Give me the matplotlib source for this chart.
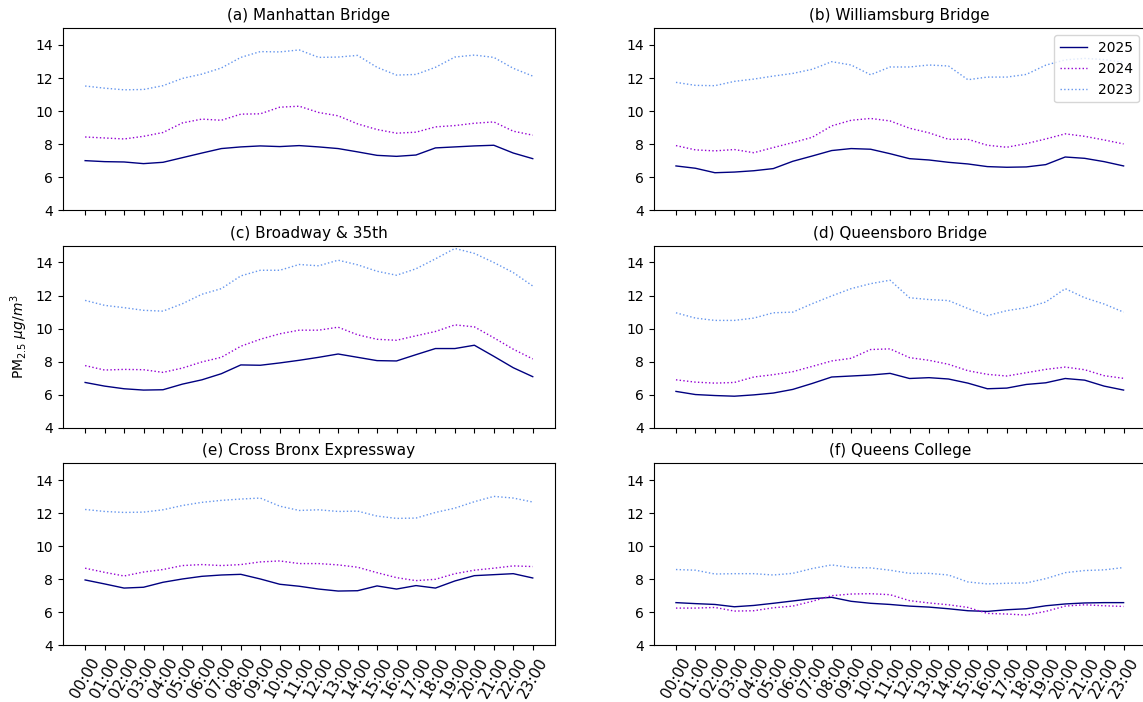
import numpy as np
import matplotlib
matplotlib.use("Agg")
import matplotlib.pyplot as plt

hours = ["%02d:00" % h for h in range(24)]

sites = ["(a) Manhattan Bridge", "(b) Williamsburg Bridge", "(c) Broadway & 35th",
         "(d) Queensboro Bridge", "(e) Cross Bronx Expressway", "(f) Queens College"]

# hourly mean PM2.5 (ug/m3) per site, one list per year
pm_2025 = [
    [7.01, 6.95, 6.93, 6.83, 6.91, 7.19, 7.47, 7.74, 7.84, 7.90, 7.86, 7.92,
     7.84, 7.74, 7.54, 7.33, 7.27, 7.35, 7.78, 7.84, 7.90, 7.94, 7.47, 7.13],
    [6.69, 6.55, 6.28, 6.32, 6.40, 6.53, 6.97, 7.29, 7.62, 7.74, 7.70, 7.43,
     7.13, 7.05, 6.91, 6.81, 6.65, 6.61, 6.63, 6.77, 7.23, 7.15, 6.95, 6.69],
    [6.75, 6.53, 6.37, 6.29, 6.31, 6.65, 6.91, 7.28, 7.81, 7.79, 7.93, 8.09,
     8.27, 8.47, 8.27, 8.07, 8.05, 8.43, 8.80, 8.80, 9.00, 8.33, 7.64, 7.10],
    [6.21, 6.02, 5.96, 5.92, 6.00, 6.11, 6.33, 6.69, 7.08, 7.14, 7.20, 7.30,
     6.99, 7.04, 6.96, 6.71, 6.37, 6.41, 6.63, 6.73, 6.99, 6.89, 6.53, 6.29],
    [7.96, 7.72, 7.47, 7.52, 7.82, 8.02, 8.18, 8.26, 8.30, 8.02, 7.70, 7.58,
     7.41, 7.29, 7.31, 7.60, 7.41, 7.62, 7.47, 7.90, 8.22, 8.28, 8.34, 8.08],
    [6.59, 6.53, 6.48, 6.34, 6.42, 6.55, 6.69, 6.83, 6.91, 6.67, 6.55, 6.48,
     6.38, 6.32, 6.22, 6.10, 6.06, 6.16, 6.22, 6.40, 6.51, 6.57, 6.59, 6.59],
]
pm_2024 = [
    [8.44, 8.38, 8.32, 8.48, 8.71, 9.29, 9.52, 9.45, 9.82, 9.84, 10.24, 10.30,
     9.92, 9.72, 9.23, 8.89, 8.67, 8.73, 9.05, 9.13, 9.27, 9.35, 8.79, 8.55],
    [7.92, 7.66, 7.60, 7.68, 7.49, 7.80, 8.10, 8.42, 9.11, 9.45, 9.56, 9.41,
     8.97, 8.69, 8.30, 8.30, 7.94, 7.82, 8.04, 8.32, 8.63, 8.48, 8.26, 8.02],
    [7.77, 7.50, 7.54, 7.52, 7.36, 7.62, 7.99, 8.27, 8.94, 9.36, 9.69, 9.91,
     9.91, 10.09, 9.63, 9.36, 9.30, 9.57, 9.83, 10.23, 10.11, 9.45, 8.76, 8.17],
    [6.91, 6.77, 6.71, 6.75, 7.08, 7.22, 7.40, 7.72, 8.05, 8.21, 8.74, 8.78,
     8.25, 8.09, 7.85, 7.46, 7.24, 7.14, 7.34, 7.54, 7.68, 7.52, 7.16, 7.00],
    [8.67, 8.42, 8.20, 8.44, 8.59, 8.83, 8.89, 8.83, 8.89, 9.05, 9.11, 8.95,
     8.95, 8.87, 8.73, 8.40, 8.10, 7.92, 8.00, 8.34, 8.55, 8.67, 8.81, 8.77],
    [6.26, 6.26, 6.30, 6.08, 6.10, 6.28, 6.38, 6.67, 7.01, 7.11, 7.13, 7.07,
     6.71, 6.57, 6.46, 6.30, 5.94, 5.90, 5.84, 6.06, 6.38, 6.46, 6.40, 6.36],
]
pm_2023 = [
    [11.52, 11.39, 11.29, 11.31, 11.54, 11.98, 12.24, 12.61, 13.25, 13.60, 13.58, 13.70,
     13.25, 13.27, 13.37, 12.65, 12.18, 12.22, 12.65, 13.27, 13.39, 13.25, 12.59, 12.12],
    [11.74, 11.56, 11.54, 11.80, 11.94, 12.12, 12.28, 12.53, 12.99, 12.79, 12.20, 12.67,
     12.67, 12.79, 12.73, 11.90, 12.06, 12.06, 12.22, 12.78, 13.10, 13.19, 13.12, 12.95],
    [11.71, 11.41, 11.27, 11.11, 11.06, 11.51, 12.08, 12.42, 13.19, 13.53, 13.53, 13.88,
     13.80, 14.14, 13.86, 13.47, 13.23, 13.62, 14.22, 14.85, 14.55, 14.00, 13.39, 12.58],
    [10.96, 10.64, 10.50, 10.50, 10.64, 10.96, 11.00, 11.51, 11.98, 12.42, 12.72, 12.93,
     11.87, 11.76, 11.70, 11.22, 10.79, 11.09, 11.27, 11.61, 12.42, 11.87, 11.49, 11.00],
    [12.22, 12.10, 12.04, 12.06, 12.20, 12.46, 12.65, 12.77, 12.85, 12.91, 12.42, 12.16,
     12.20, 12.10, 12.12, 11.82, 11.68, 11.70, 12.04, 12.30, 12.69, 13.01, 12.91, 12.67],
    [8.59, 8.55, 8.32, 8.34, 8.34, 8.26, 8.36, 8.65, 8.87, 8.71, 8.69, 8.55,
     8.36, 8.36, 8.26, 7.84, 7.72, 7.76, 7.78, 8.04, 8.40, 8.53, 8.57, 8.71],
]

x = np.arange(len(hours))

fig, axes = plt.subplots(3, 2, figsize=(11.43, 7.02), dpi=100, sharex=True)
fig.subplots_adjust(left=0.0549, right=1.0026, bottom=0.0805, top=0.9595,
                    wspace=0.2, hspace=0.195)

for i, ax in enumerate(axes.flat):
    ax.plot(x, pm_2025[i], color="navy", lw=1, label="2025")
    ax.plot(x, pm_2024[i], color="darkviolet", lw=1, ls=":", label="2024")
    ax.plot(x, pm_2023[i], color="cornflowerblue", lw=1, ls=":", label="2023")
    ax.set_title(sites[i], fontsize=11)
    ax.set_ylim(4, 15)
    ax.set_yticks([4, 6, 8, 10, 12, 14])

for ax in axes[2]:
    ax.set_xticks(x)
    ax.set_xticklabels(hours, rotation=60, fontsize=11)

axes[1, 0].set_ylabel("PM$_{2.5}$ $\\mu g/m^3$")
axes[0, 1].legend(loc="upper right")

fig.savefig("out.png", dpi=100)
